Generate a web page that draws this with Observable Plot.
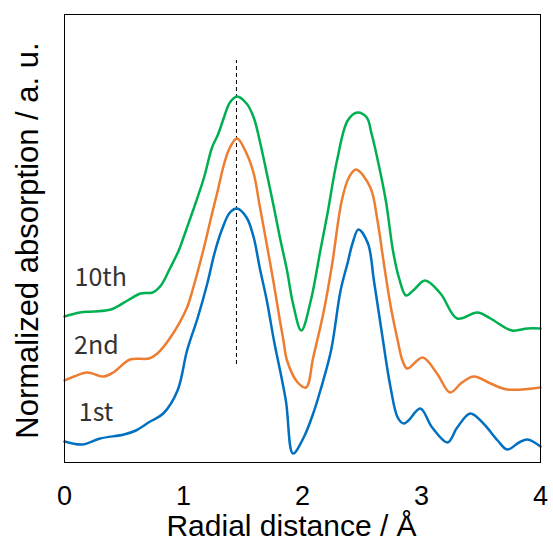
<!DOCTYPE html>
<html><head><meta charset="utf-8">
<script src="https://cdn.jsdelivr.net/npm/d3@7"></script>
<script src="https://cdn.jsdelivr.net/npm/@observablehq/plot@0.6"></script>
<style>body{margin:0;background:#fff}</style>
</head><body><div id="chart"></div>
<script>
// Radial distance (Å) and normalized absorption (a. u., offset) for each cycle
const r1st = [0.00,0.15,0.30,0.50,0.60,0.72,0.83,0.95,1.03,1.12,1.20,1.26,1.32,1.39,1.45,1.53,1.59,1.64,1.70,1.76,1.86,1.92,2.01,2.09,2.15,2.24,2.32,2.38,2.42,2.47,2.55,2.60,2.66,2.74,2.80,2.85,2.89,2.99,3.09,3.22,3.30,3.41,3.52,3.64,3.72,3.82,3.89,4.00];
const v1st = [21,18,24,28,32,41,49,72,112,145,179,209,232,250,254,245,225,195,162,122,62,9,25,49,72,112,172,200,219,233,219,182,135,75,45,39,42,54,35,20,35,49,39,22,13,20,23,16];

const r2nd = [0.00,0.08,0.19,0.33,0.41,0.55,0.71,0.78,0.89,1.03,1.08,1.17,1.23,1.29,1.34,1.39,1.45,1.53,1.59,1.64,1.70,1.76,1.81,1.84,1.87,1.96,2.03,2.09,2.18,2.25,2.33,2.39,2.45,2.57,2.63,2.68,2.74,2.80,2.84,2.88,3.01,3.13,3.24,3.34,3.44,3.58,3.72,4.00];
const v2nd = [82,86,90,86,90,103,104,109,125,155,174,214,244,273,298,315,324,309,289,257,218,178,142,122,102,80,75,105,152,199,262,285,293,275,242,202,157,122,102,94,105,89,70,80,86,79,73,75];

const r10th = [0.00,0.13,0.24,0.39,0.53,0.64,0.74,0.81,0.89,0.96,1.00,1.08,1.17,1.24,1.29,1.34,1.39,1.45,1.53,1.59,1.64,1.70,1.76,1.81,1.87,1.92,1.99,2.07,2.15,2.21,2.29,2.38,2.46,2.54,2.58,2.62,2.70,2.76,2.81,2.87,2.93,3.03,3.16,3.30,3.47,3.58,3.76,3.89,4.00];
const v10th = [146,150,151,153,162,169,170,177,195,212,225,252,284,315,328,345,360,366,359,345,322,289,255,225,192,159,132,162,212,249,302,342,350,345,329,309,262,212,185,167,172,182,169,144,150,144,132,134,134];

const seriesNames = ["1st","2nd","10th"];
const seriesColors = ["#0070C0","#ED7D31","#00B050"];
const xTicks = [0,1,2,3,4];
const labelR = [0.12,0.08,0.085];
const labelV = [50,117,185];
const peakR = 1.445;
const peakRange = [98,402];

const rows = [];
[[r1st,v1st],[r2nd,v2nd],[r10th,v10th]].forEach(([rs,vs],k)=>{
  rs.forEach((r,i)=>rows.push({series:seriesNames[k], r, v:vs[i]}));
});
const labels = seriesNames.map((s,i)=>({s, r:labelR[i], v:labelV[i]}));

const chart = Plot.plot({
  width:553, height:540,
  marginLeft:64, marginRight:13, marginTop:14, marginBottom:78,
  style:{fontFamily:"'Liberation Sans', Arial, sans-serif", background:"#fff"},
  x:{domain:[0,4]},
  y:{domain:[0,448], axis:null},
  color:{domain:seriesNames, range:seriesColors},
  marks:[
    Plot.ruleX([peakR], {y1:peakRange[0], y2:peakRange[1], stroke:"#000", strokeWidth:1, strokeDasharray:"4,3"}),
    Plot.line(rows, {x:"r", y:"v", z:"series", stroke:"series", strokeWidth:2.5, curve:"catmull-rom"}),
    Plot.text(labels, {x:"r", y:"v", text:"s", textAnchor:"start", fontSize:25, fill:"#333", fontFamily:"'Noto Sans CJK JP', sans-serif"}),
    Plot.frame({stroke:"#000", strokeWidth:1}),
    Plot.axisX(xTicks, {tickSize:0, tickPadding:23, fontSize:27, fill:"#000", label:null, tickFormat:d=>String(d)}),
    Plot.text(["Radial distance / Å"], {frameAnchor:"bottom", lineAnchor:"bottom", dy:73, dx:-11, fontSize:30, fill:"#000"}),
    Plot.text(["Normalized absorption / a. u."], {frameAnchor:"left", textAnchor:"middle", rotate:-90, dx:-36, dy:2, fontSize:31, fill:"#000"})
  ]
});
document.getElementById("chart").appendChild(chart);
</script>
</body></html>
